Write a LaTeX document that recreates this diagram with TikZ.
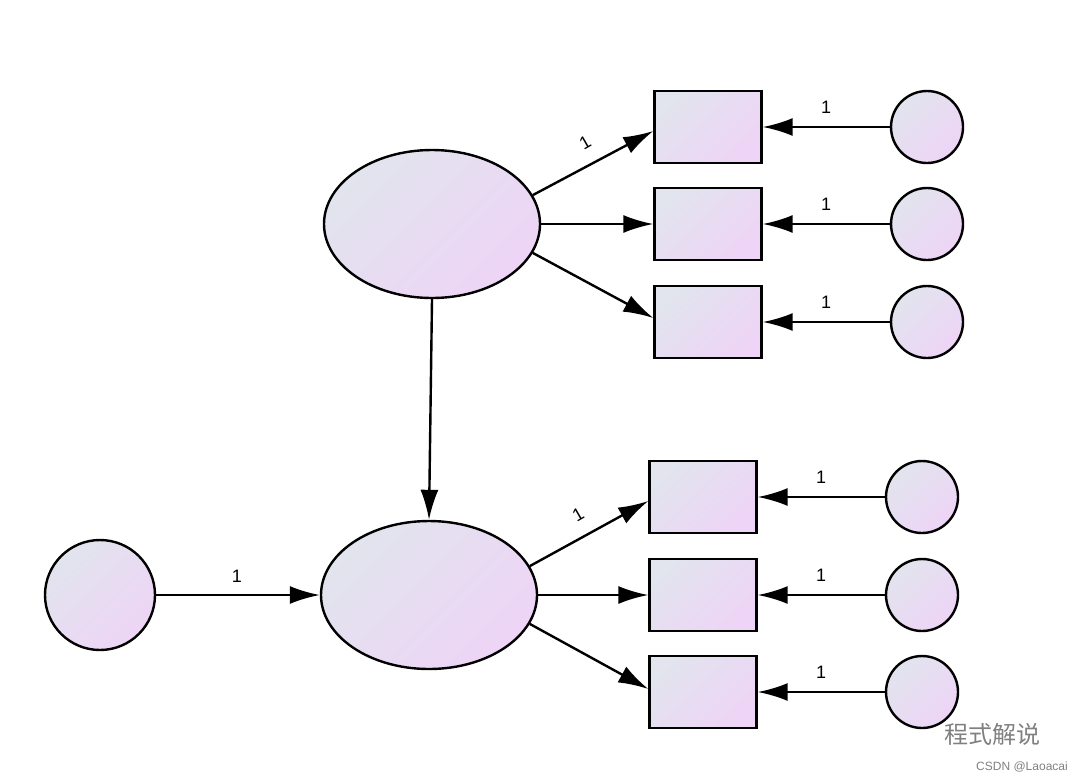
\documentclass[tikz,border=0pt]{standalone}
\usepackage{fontspec}
\setmainfont{Liberation Sans}
\newfontfamily\cjk{Noto Sans CJK SC}
\usetikzlibrary{arrows.meta}
\usetikzlibrary{shapes.geometric}
\definecolor{fillA}{RGB}{226,228,238}
\definecolor{fillB}{RGB}{238,212,246}
\begin{document}
\begin{tikzpicture}[x=0.5pt,y=-0.5pt,line width=1.2pt,
  fillc/.style={left color=fillA, right color=fillB, shading angle=45},
  latent/.style={ellipse,draw,fillc,minimum width=108pt,minimum height=74pt,inner sep=0},
  obs/.style={rectangle,draw,fillc,minimum width=53.5pt,minimum height=36pt,inner sep=0},
  err/.style={circle,draw,fillc,minimum size=36pt,inner sep=0},
  path/.style={draw,-{Latex[length=15pt,width=9pt]}},
  lbl/.style={font=\fontsize{9pt}{9pt}\selectfont}]
  \useasboundingbox (0,0) rectangle (1080,782);
  \node[latent] (f1) at (432,224) {};
  \node[latent] (f2) at (429,595) {};
  \node[err,minimum size=55pt] (d) at (100,595) {};
  \foreach \i/\y in {1/127,2/224,3/322} {
    \node[obs] (a\i) at (708,\y) {};
    \node[err] (ea\i) at (927,\y) {};
    \path[path] (ea\i) -- (a\i);
    \node[lbl] at (826,\y-20) {1};
  }
  \foreach \i/\y in {1/497,2/595,3/692} {
    \node[obs] (b\i) at (703,\y) {};
    \node[err] (eb\i) at (922,\y) {};
    \path[path] (eb\i) -- (b\i);
    \node[lbl] at (821,\y-20) {1};
  }
  \path[path] (f1.16) -- (a1.west |- 0,131);
  \path[path] (f1.east) -- (a2.west);
  \path[path] (f1.-16) -- (a3.west |- 0,318);
  \path[path] (f2.16) -- (b1.west |- 0,501);
  \path[path] (f2.east) -- (b2.west);
  \path[path] (f2.-16) -- (b3.west |- 0,689);
  \path[path] (f1.south) -- (f2.north);
  \path[path] (d) -- (f2);
  \node[lbl,rotate=30] at (585,143) {1};
  \node[lbl,rotate=30] at (578,515) {1};
  \node[lbl] at (237,576) {1};
  \node[gray,font=\cjk\fontsize{12pt}{12pt}\selectfont] (wm) at (992,734) {程式解说};
  \node[gray,font=\fontsize{6pt}{6pt}\selectfont] (csdn) at (1022,767) {CSDN @Laoacai};
\end{tikzpicture}
\end{document}
